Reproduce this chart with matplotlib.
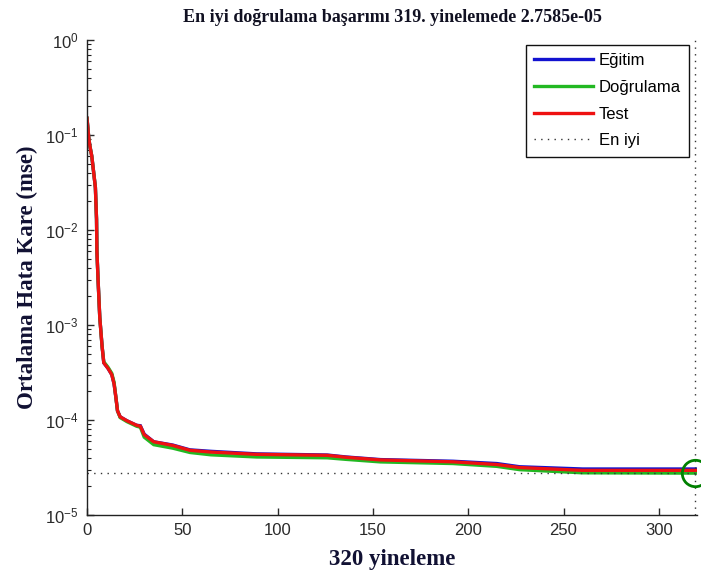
import matplotlib
matplotlib.use("Agg")
import matplotlib.pyplot as plt
from matplotlib.lines import Line2D

# ---- data ----
epochs = [0, 1, 1.6, 2.5, 3.4, 4.4, 5, 5.2, 5.8, 6.7, 7.9, 8.8, 11, 13, 14.2, 15.2,
          16, 17.4, 21, 26, 28, 30, 35, 45, 54, 65, 89, 126, 136, 154, 192, 215,
          227, 260, 320]
train_mse = [0.15, 0.09, 0.075, 0.06, 0.042, 0.028, 0.013, 0.006, 0.003, 0.0012,
             0.0006, 0.0004, 0.00035, 0.0003, 0.00024, 0.00017, 0.000125, 0.000108,
             0.000098, 0.000088, 0.000087, 0.000071, 0.000059, 0.0000545, 0.0000485,
             0.0000468, 0.0000440, 0.0000428, 0.0000408, 0.0000383, 0.0000368,
             0.0000348, 0.0000322, 0.0000305, 0.0000305]
val_mse = [0.15, 0.09, 0.075, 0.06, 0.042, 0.028, 0.013, 0.006, 0.003, 0.0012,
           0.0006, 0.00041, 0.00036, 0.00031, 0.00025, 0.00017, 0.000125, 0.000106,
           0.000096, 0.000086, 0.000084, 0.000066, 0.000055, 0.0000505, 0.0000455,
           0.0000430, 0.0000408, 0.0000400, 0.0000385, 0.0000362, 0.0000348,
           0.0000325, 0.0000300, 0.0000278, 0.000027585]
test_mse = [0.15, 0.09, 0.075, 0.06, 0.042, 0.028, 0.013, 0.006, 0.003, 0.0012,
            0.0006, 0.0004, 0.00035, 0.0003, 0.00024, 0.00017, 0.000125, 0.000108,
            0.000098, 0.000088, 0.000086, 0.000070, 0.000059, 0.000054, 0.000048,
            0.000046, 0.0000435, 0.0000425, 0.0000405, 0.000038, 0.0000363,
            0.000034, 0.0000316, 0.0000295, 0.0000295]
best_epoch = 319
best_perf = 2.7585e-05
total_epochs = 320
xticks = [0, 50, 100, 150, 200, 250, 300]

title = "En iyi doğrulama başarımı 319. yinelemede 2.7585e-05"
xlabel = "320 yineleme"
ylabel = "Ortalama Hata Kare (mse)"
legend_labels = ["Eğitim", "Doğrulama", "Test", "En iyi"]

# ---- figure ----
fig = plt.figure(figsize=(7.01, 5.80), dpi=100)
ax = fig.add_axes([87 / 701, 1 - 515 / 580, 610 / 701, 475 / 580])

c_train = "#1212d0"
c_val = "#22b822"
c_test = "#ee1111"

l1, = ax.plot(epochs, train_mse, color=c_train, lw=2.4, solid_joinstyle="miter")
l2, = ax.plot(epochs, val_mse, color=c_val, lw=2.4, solid_joinstyle="miter")
l3, = ax.plot(epochs, test_mse, color=c_test, lw=2.4, solid_joinstyle="miter")

dot_kw = dict(color="#333333", lw=1.0, dashes=(1, 3.8))
l4 = ax.axhline(best_perf, **dot_kw)
ax.axvline(best_epoch, **dot_kw)
ax.plot([best_epoch], [best_perf], marker="o", ms=19, mfc="none", mec="#008000",
        mew=2.0, clip_on=False, zorder=5)

ax.set_yscale("log")
ax.set_ylim(1e-5, 1)
ax.set_xlim(0, total_epochs)
ax.set_xticks(xticks)

for s in ["top", "right"]:
    ax.spines[s].set_visible(False)
for s in ["left", "bottom"]:
    ax.spines[s].set_color("#222222")
    ax.spines[s].set_linewidth(1.0)

tick_font = "Liberation Sans"
ax.tick_params(axis="both", which="major", direction="in", length=5, width=1,
               colors="#2a2a2a", labelsize=12, pad=6)
ax.tick_params(axis="y", which="minor", direction="in", length=3, width=0.8,
               colors="#222222")
for lab in ax.get_xticklabels() + ax.get_yticklabels():
    lab.set_fontfamily(tick_font)

serif = "Liberation Serif"
ax.set_title(title, fontfamily=serif, fontweight="bold", fontsize=13,
             color="#111122", pad=13)
ax.set_xlabel(xlabel, fontfamily=serif, fontweight="bold", fontsize=16.5,
              color="#111133", labelpad=8)
ax.set_ylabel(ylabel, fontfamily=serif, fontweight="bold", fontsize=16.5,
              color="#111133", labelpad=5)

handles = [Line2D([], [], color=c_train, lw=2.4),
           Line2D([], [], color=c_val, lw=2.4),
           Line2D([], [], color=c_test, lw=2.4),
           Line2D([], [], **dot_kw)]
leg = ax.legend(handles, legend_labels, loc="upper right",
                bbox_to_anchor=(689 / 701, 1 - 45 / 580), bbox_transform=fig.transFigure,
                borderaxespad=0,
                prop={"family": tick_font, "size": 12}, handlelength=3.5,
                handletextpad=0.35, labelspacing=0.7, borderpad=0.5,
                fancybox=False, framealpha=1, edgecolor="#111111")
leg.get_frame().set_linewidth(1.0)

fig.savefig("out.png", dpi=100)
